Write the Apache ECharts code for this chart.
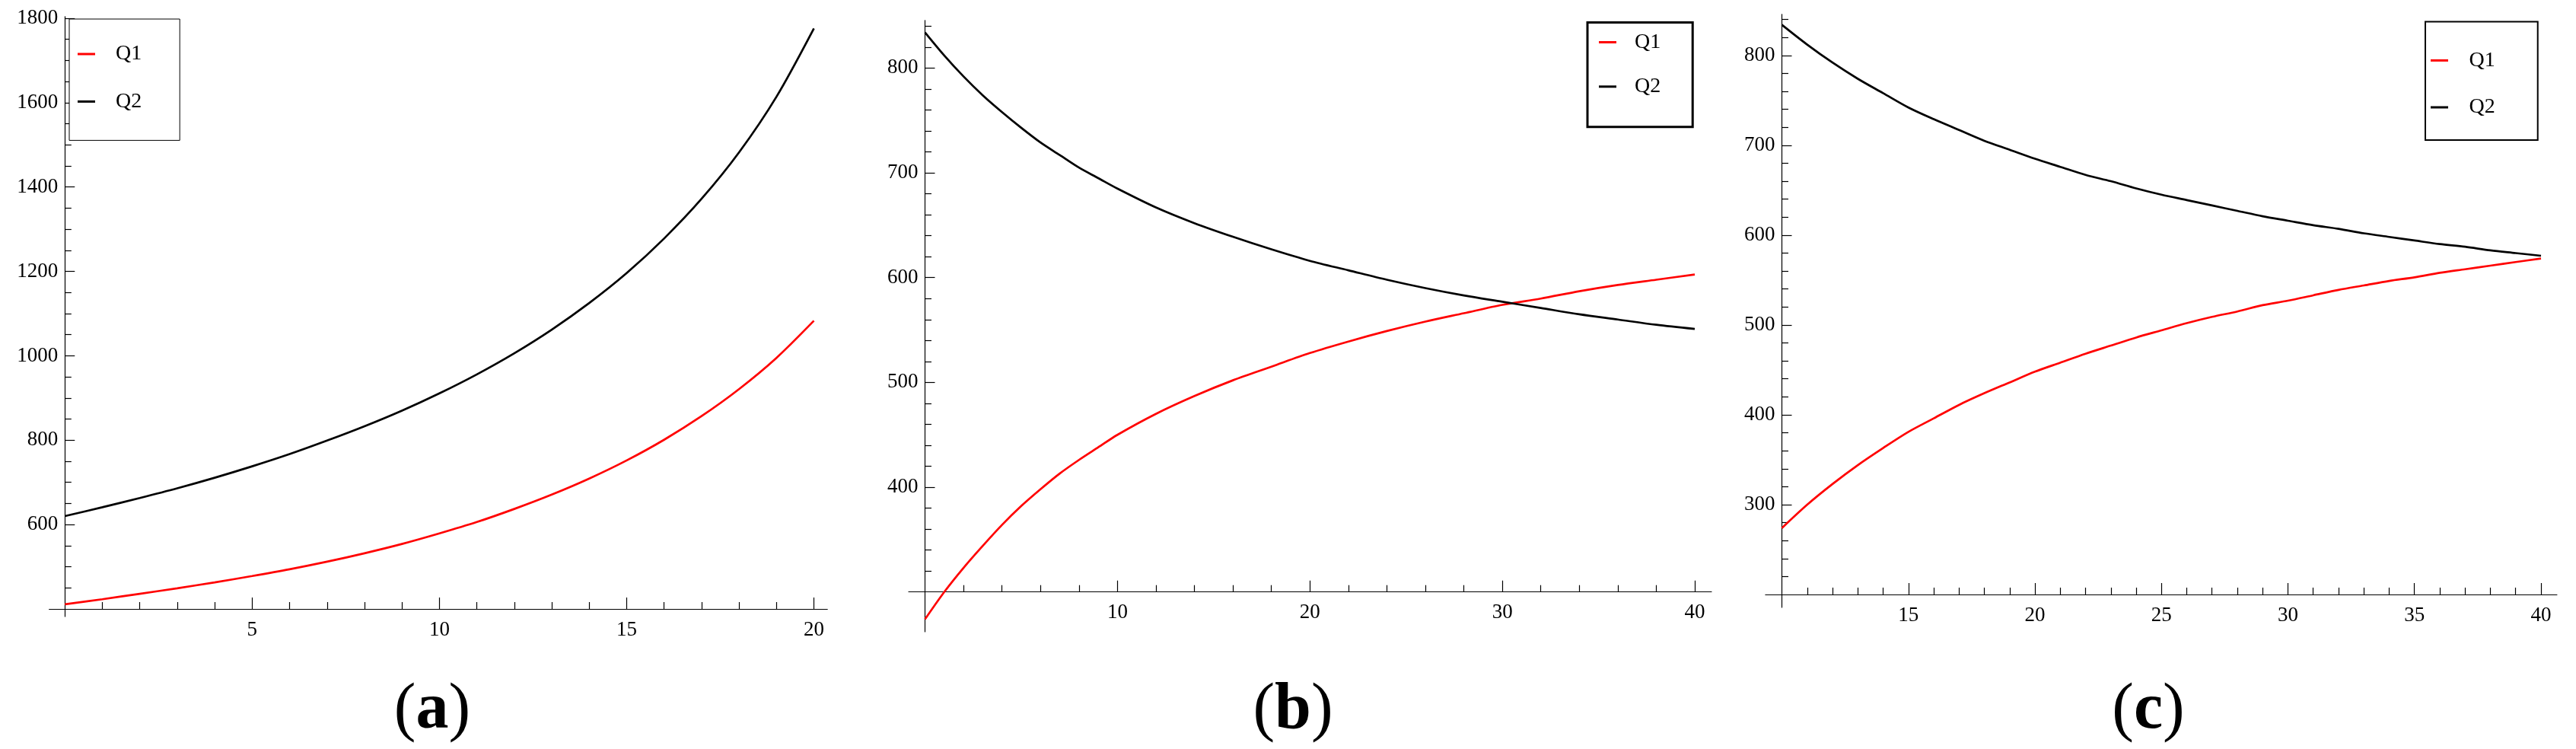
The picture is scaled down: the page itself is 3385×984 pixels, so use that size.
<!DOCTYPE html>
<html>
<head>
<meta charset="utf-8">
<script src="https://cdn.jsdelivr.net/npm/echarts@6/dist/echarts.min.js"></script>
<style>
html,body{margin:0;padding:0;background:#ffffff;}
#c{width:3385px;height:984px;}
</style>
</head>
<body>
<div id="c"></div>
<script>
// ---------------- data ----------------
// panel (a)
const xA  = [0,1,2,3,4,5,6,7,8,9,10,11,12,13,14,15,16,17,18,19,20];
const q1A = [411,423,436,449,463,478,494,512,532,554,579,606,637,671,709,752,801,857,921,995,1083];
const q2A = [620,641,663,686,711,738,767,799,833,870,911,956,1006,1062,1125,1196,1278,1372,1482,1614,1776];
// panel (b)
const xB  = [0,1,2,3,4,5,6,7,8,9,10,12,14,16,18,20,22,24,26,28,30,32,34,36,38,40];
const q1B = [274,300,323,344,364,382,398,413,426,438,450,470,487,502,515,528,539,549,558,566,574,580,587,593,598,603];
const q2B = [834,812,792,774,758,743,729,717,705,695,685,667,652,639,627,616,607,598,590,583,577,571,565,560,555,551];
// panel (c)
const xC  = [10,11,12,13,14,15,16,17,18,19,20,21,22,23,24,25,26,27,28,29,30,31,32,33,34,35,36,37,38,39,40];
const q1C = [274,300,323,344,363,381,396,411,424,436,448,458,468,477,486,494,502,509,515,522,527,533,539,544,549,553,558,562,566,570,574];
const q2C = [834,812,792,774,758,742,729,717,705,695,685,676,667,660,652,645,639,633,627,621,616,611,607,602,598,594,590,587,583,580,577];

// tick labels
const xMajorA = [5,10,15,20];
const yMajorA = [600,800,1000,1200,1400,1600,1800];
const xMajorB = [10,20,30,40];
const yMajorB = [400,500,600,700,800];
const xMajorC = [15,20,25,30,35,40];
const yMajorC = [300,400,500,600,700,800];

const seriesNames = ['Q1','Q2'];
const captions = ['a','b','c'];

// ---------------- helpers ----------------
function steps(from, to, step, skip) {
  const out = [];
  const n = Math.round((to - from) / step);
  for (let k = 0; k <= n; k++) {
    const v = Math.round((from + k * step) * 1000) / 1000;
    if (skip.indexOf(v) < 0) out.push(v);
  }
  return out;
}

const FONT = "'Liberation Serif', 'DejaVu Serif', serif";
const RED = '#ff0000';
const BLACK = '#000000';

const panels = [
  {xs:xA, q1:q1A, q2:q2A, xMajor:xMajorA, yMajor:yMajorA,
   xMinor:steps(1,19,1,xMajorA), yMinor:steps(450,1750,50,yMajorA),
   x0:0, x0px:85.3, x1:20, x1px:1069.5, xMin:-0.42, xMax:20.36,
   y0:400, y0px:800, y1:1800, y1px:24, yMin:382, yMax:1804, xCross:0, yCross:400,
   legend:{left:91, top:25, pad:[31,50,36,11], gap:32.4, txtPad:22, border:1},
   cap:{x:568, y:934}},
  {xs:xB, q1:q1B, q2:q2B, xMajor:xMajorB, yMajor:yMajorB,
   xMinor:steps(2,38,2,xMajorB), yMinor:steps(320,840,20,yMajorB),
   x0:0, x0px:1215.5, x1:40, x1px:2227, xMin:-0.85, xMax:40.87,
   y0:300, y0px:777.7, y1:800, y1px:89.4, yMin:262, yMax:845.5, xCross:0, yCross:300,
   legend:{left:2086, top:29.5, pad:[11,42,38,15], gap:28.3, txtPad:19, border:3},
   cap:{x:1699, y:934}},
  {xs:xC, q1:q1C, q2:q2C, xMajor:xMajorC, yMajor:yMajorC,
   xMinor:steps(11,39,1,xMajorC), yMinor:steps(220,840,20,yMajorC),
   x0:10, x0px:2341.5, x1:40, x1px:3339, xMin:9.35, xMax:40.63,
   y0:200, y0px:781, y1:800, y1px:72.8, yMin:185.6, yMax:845.8, xCross:10, yCross:200,
   legend:{left:3187, top:28.4, pad:[36,56,28,7], gap:31.6, txtPad:22.5, border:2},
   cap:{x:2823, y:934}}
];

const grids = [], xAxes = [], yAxes = [], series = [], legends = [], graphics = [];
const labelStyle = {fontFamily: FONT, fontSize: 27, color: BLACK, formatter: function (v) { return String(v); }};

panels.forEach(function (p, i) {
  const xppu = (p.x1px - p.x0px) / (p.x1 - p.x0);
  const yppu = (p.y0px - p.y1px) / (p.y1 - p.y0);
  const left = p.x0px - (p.x0 - p.xMin) * xppu;
  const width = (p.xMax - p.xMin) * xppu;
  const top = p.y1px - (p.yMax - p.y1) * yppu;
  const height = (p.yMax - p.yMin) * yppu;
  const xOff = -(p.yCross - p.yMin) * yppu;
  const yOff = -(p.xCross - p.xMin) * xppu;

  grids.push({left: left, top: top, width: width, height: height, containLabel: false, outerBoundsMode: 'none', show: false});

  xAxes.push({type:'value', gridIndex:i, min:p.xMin, max:p.xMax, position:'bottom', offset:xOff,
    axisLine:{show:true, onZero:false, lineStyle:{color:BLACK, width:1.2}},
    axisTick:{show:true, inside:true, length:15, customValues:p.xMajor, lineStyle:{color:BLACK, width:1.2}},
    axisLabel:Object.assign({show:true, customValues:p.xMajor, margin:14}, labelStyle),
    splitLine:{show:false}, minorTick:{show:false}});
  xAxes.push({type:'value', gridIndex:i, min:p.xMin, max:p.xMax, position:'bottom', offset:xOff,
    axisLine:{show:false, onZero:false},
    axisTick:{show:true, inside:true, length:9, customValues:p.xMinor, lineStyle:{color:BLACK, width:1.2}},
    axisLabel:{show:false}, splitLine:{show:false}});
  yAxes.push({type:'value', gridIndex:i, min:p.yMin, max:p.yMax, position:'left', offset:yOff,
    axisLine:{show:true, onZero:false, lineStyle:{color:BLACK, width:1.2}},
    axisTick:{show:true, inside:true, length:13, customValues:p.yMajor, lineStyle:{color:BLACK, width:1.2}},
    axisLabel:Object.assign({show:true, customValues:p.yMajor, margin:9}, labelStyle),
    splitLine:{show:false}, minorTick:{show:false}});
  yAxes.push({type:'value', gridIndex:i, min:p.yMin, max:p.yMax, position:'left', offset:yOff,
    axisLine:{show:false, onZero:false},
    axisTick:{show:true, inside:true, length:8.5, customValues:p.yMinor, lineStyle:{color:BLACK, width:1.2}},
    axisLabel:{show:false}, splitLine:{show:false}});

  [[seriesNames[0], p.q1, RED], [seriesNames[1], p.q2, BLACK]].forEach(function (s) {
    series.push({type:'line', name:s[0], xAxisIndex:2*i, yAxisIndex:2*i,
      data:p.xs.map(function (x, k) { return [x, s[1][k]]; }),
      showSymbol:false, symbol:'none', smooth:0.3, clip:false, silent:true,
      lineStyle:{color:s[2], width:2.7}, itemStyle:{color:s[2]}, emphasis:{disabled:true}});
  });

  legends.push({data:seriesNames, orient:'vertical', left:p.legend.left, top:p.legend.top,
    padding:p.legend.pad, itemGap:p.legend.gap, itemWidth:23, itemHeight:3, icon:'rect',
    borderColor:BLACK, borderWidth:p.legend.border, backgroundColor:'#ffffff', selectedMode:false,
    textStyle:{fontFamily:FONT, fontSize:28, lineHeight:30, color:BLACK, padding:[0,0,0,p.legend.txtPad]}});

  graphics.push({type:'text', x:p.cap.x, y:p.cap.y, silent:true,
    style:{text:'{p|(}{b|' + captions[i] + '}{p|)}', textAlign:'center', textVerticalAlign:'middle',
      align:'center', verticalAlign:'middle', fill:BLACK,
      rich:{p:{fontFamily:FONT, fontSize:86, fontWeight:'normal', fill:BLACK, color:BLACK},
            b:{fontFamily:FONT, fontSize:86, fontWeight:'bold', fill:BLACK, color:BLACK}}}});
});

const chart = echarts.init(document.getElementById('c'), null, {renderer:'canvas', width:3385, height:984});
chart.setOption({
  animation:false,
  backgroundColor:'#ffffff',
  grid:grids, xAxis:xAxes, yAxis:yAxes, series:series, legend:legends,
  graphic:{elements:graphics}
});
</script>
</body>
</html>
